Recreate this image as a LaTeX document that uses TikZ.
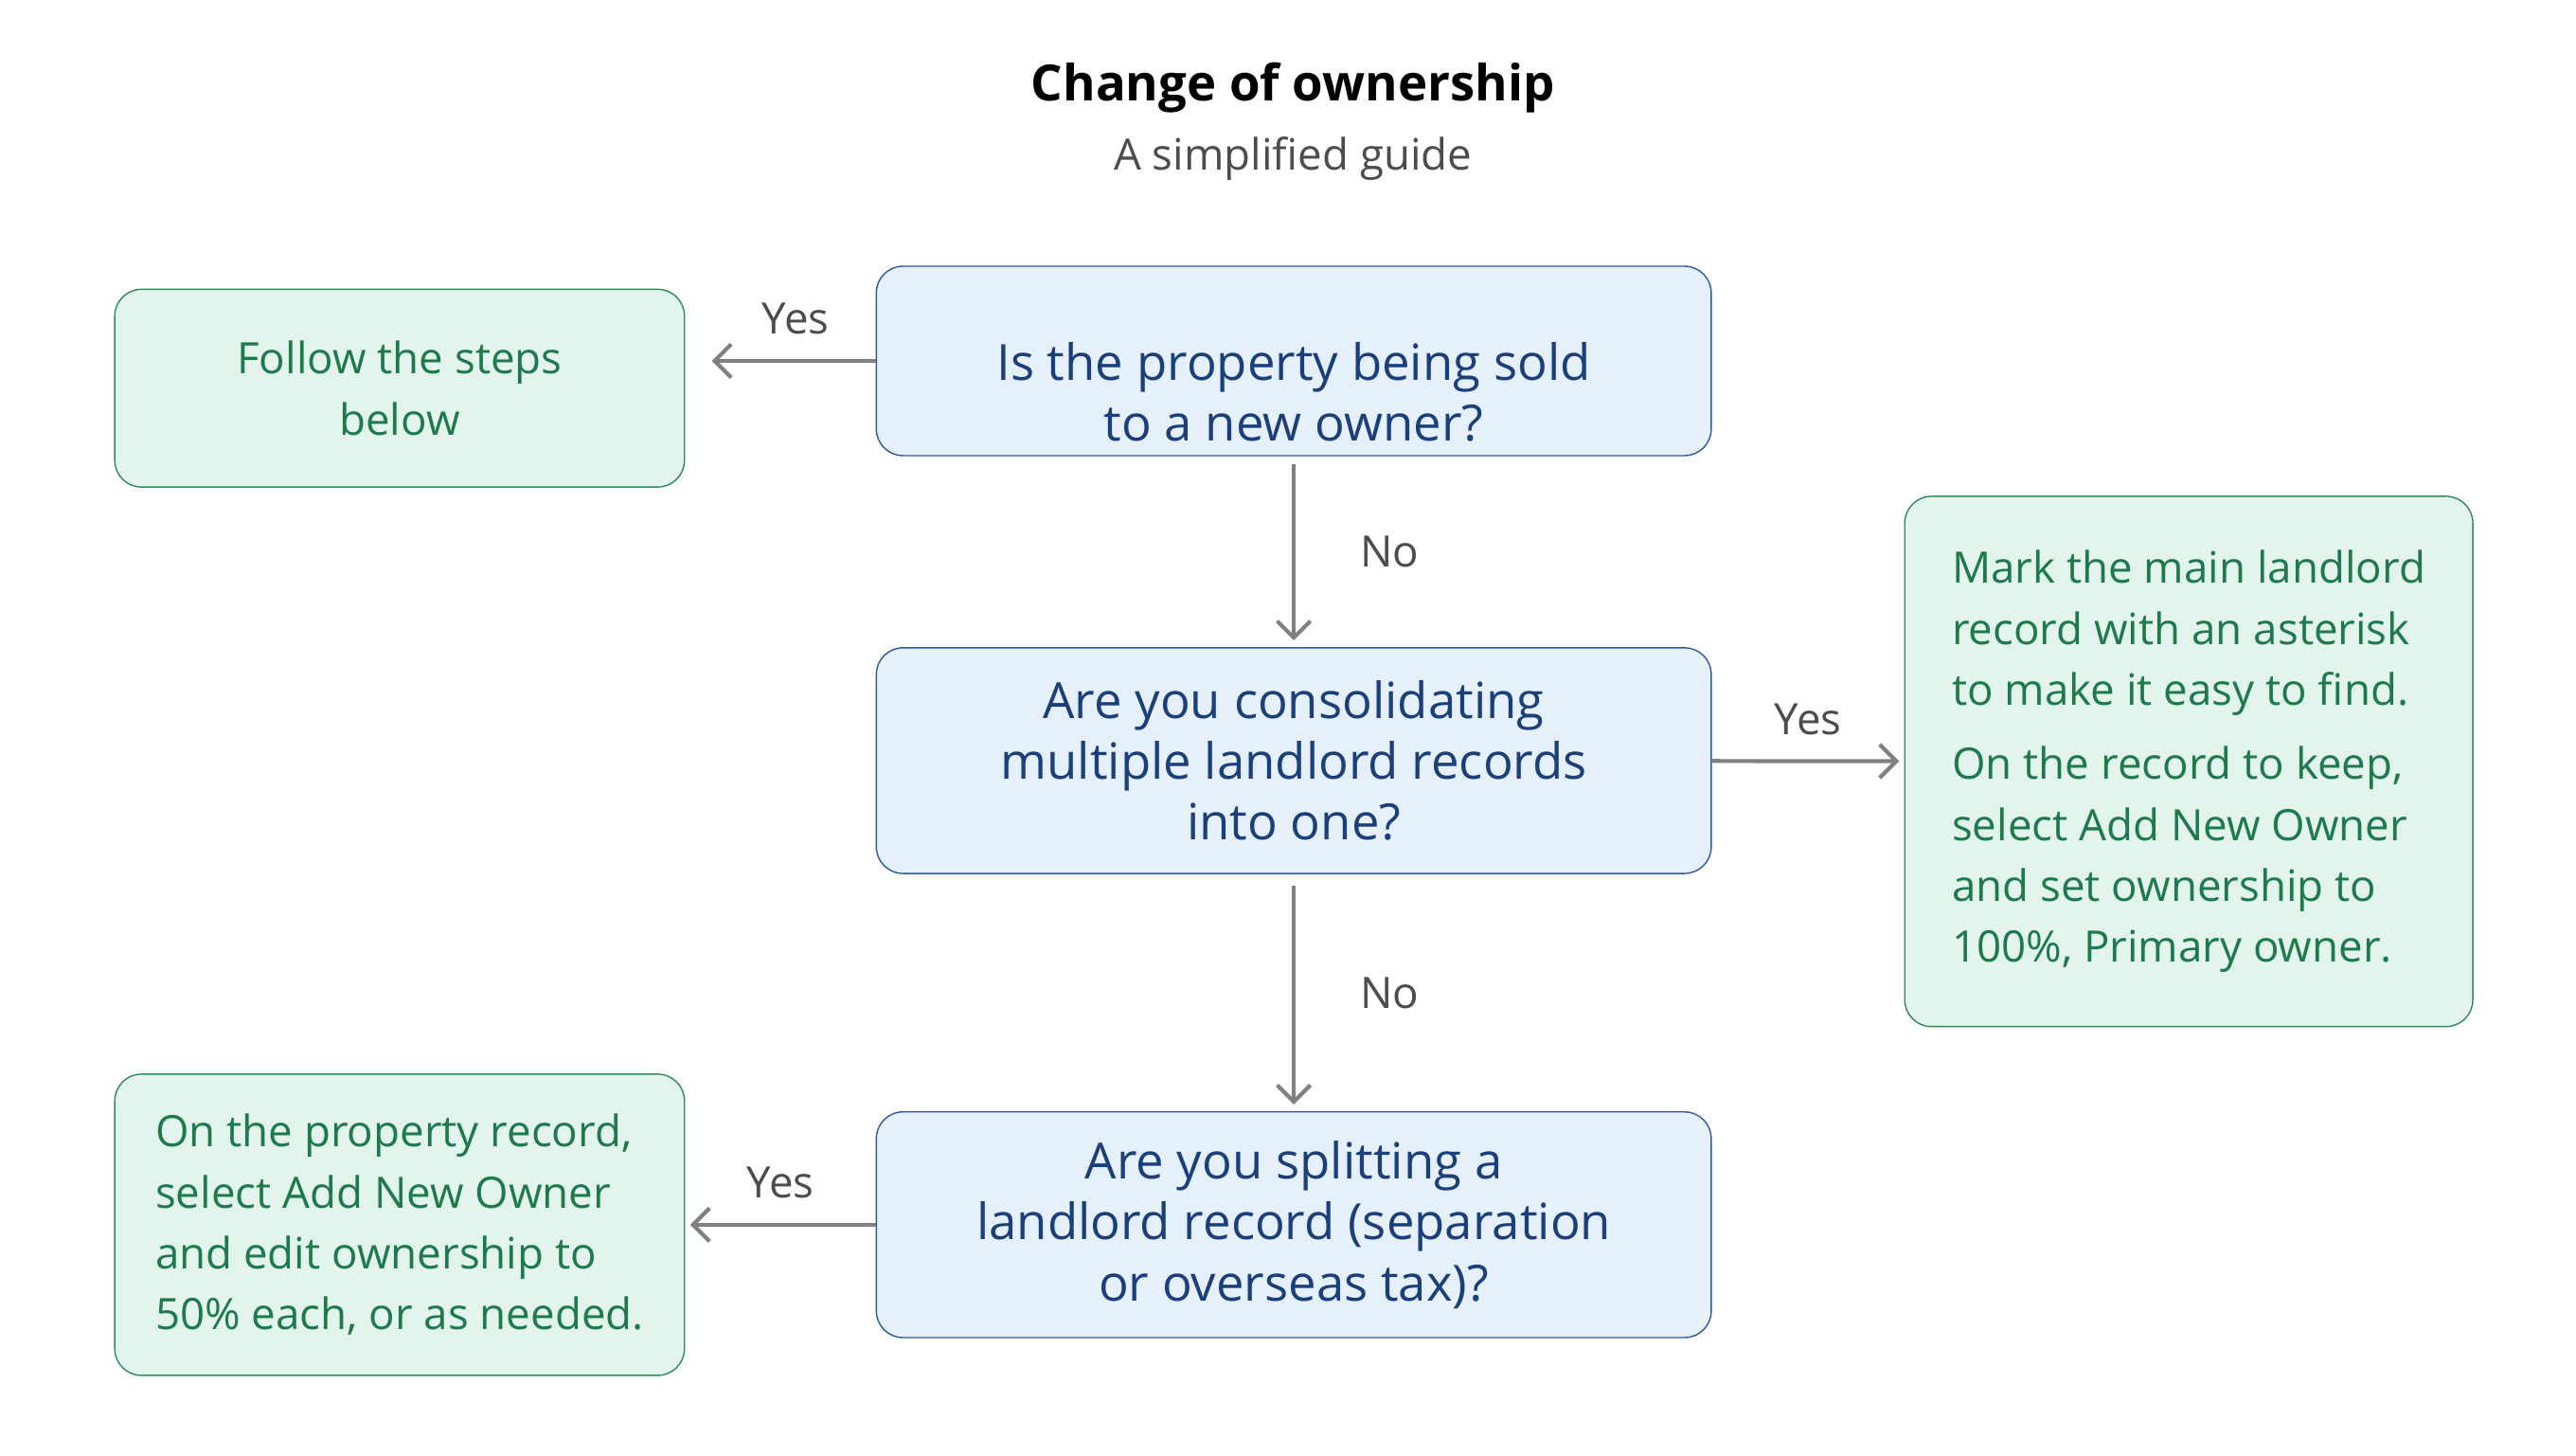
\documentclass[tikz,border=0pt]{standalone}
\usepackage{fontspec}
\setmainfont{Open Sans}
\usetikzlibrary{arrows.meta}
\definecolor{qfill}{HTML}{E6F0FB}
\definecolor{qline}{HTML}{2F5A9E}
\definecolor{qtext}{HTML}{1B3F7A}
\definecolor{afill}{HTML}{E3F4EC}
\definecolor{aline}{HTML}{2E8A5A}
\definecolor{atext}{HTML}{1D7A4C}
\definecolor{arr}{HTML}{808080}
\begin{document}
\begin{tikzpicture}[x=0.01744cm,y=-0.01744cm,
    qnode/.style={draw=qline,fill=qfill,text=qtext,rounded corners=8pt,align=center,font=\fontsize{15}{18.3}\selectfont,inner sep=0pt},
    anode/.style={draw=aline,fill=afill,text=atext,rounded corners=8pt,font=\fontsize{13}{18.3}\selectfont,inner sep=0pt},
    lbl/.style={text=black!70,font=\fontsize{13}{15}\selectfont},
    flow/.style={-{Straight Barb[length=5pt,width=10pt]},draw=arr,line width=1.2pt}]
    \useasboundingbox (0,0) rectangle (1560,881);
    \node (title) at (783,53) {\fontsize{15}{18}\selectfont\bfseries Change of ownership};
    \node[text=black!70] (sub) at (783,96) {\fontsize{13}{16}\selectfont A simplified guide};

    \node[qnode,minimum width=250.9pt,minimum height=56.9pt] (q1) at (783.5,218.5) {\rule{0pt}{30pt}Is the property being sold\\to a new owner?};
    \node[qnode,minimum width=250.9pt,minimum height=67.8pt] (q2) at (783.5,460.5) {Are you consolidating\\multiple landlord records\\into one?};
    \node[qnode,minimum width=250.9pt,minimum height=67.8pt] (q3) at (783.5,741.5) {Are you splitting a\\landlord record (separation\\or overseas tax)?};
    \node[anode,minimum width=171.2pt,minimum height=59.4pt,align=center] (sell) at (242,235) {Follow the steps\\below};
    \node[anode,minimum width=170.7pt,minimum height=159.3pt,align=left] (merge) at (1325.5,461)
        {Mark the main landlord\\record with an asterisk\\to make it easy to find.\\[4pt]On the record to keep,\\select Add New Owner\\and set ownership to\\100\%, Primary owner.};
    \node[anode,minimum width=171.2pt,minimum height=90.5pt,align=left] (split) at (242,741.5)
        {On the property record,\\select Add New Owner\\and edit ownership to\\50\% each, or as needed.};

    \draw[flow,shorten >=8pt] (q1.west) -- (q1.west -| sell.east) node[lbl,pos=0.42,above=4pt] {Yes};
    \draw[flow,shorten <=2.5pt,shorten >=2pt] (q1) -- (q2) node[lbl,midway,right=16pt] {No};
    \draw[flow,shorten >=1.5pt] (q2) -- (merge) node[lbl,midway,above=4pt] {Yes};
    \draw[flow,shorten <=3.5pt,shorten >=2pt] (q2) -- (q3) node[lbl,midway,right=16pt] {No};
    \draw[flow,shorten >=1.5pt] (q3) -- (split) node[lbl,midway,above=4pt] {Yes};
\end{tikzpicture}
\end{document}
